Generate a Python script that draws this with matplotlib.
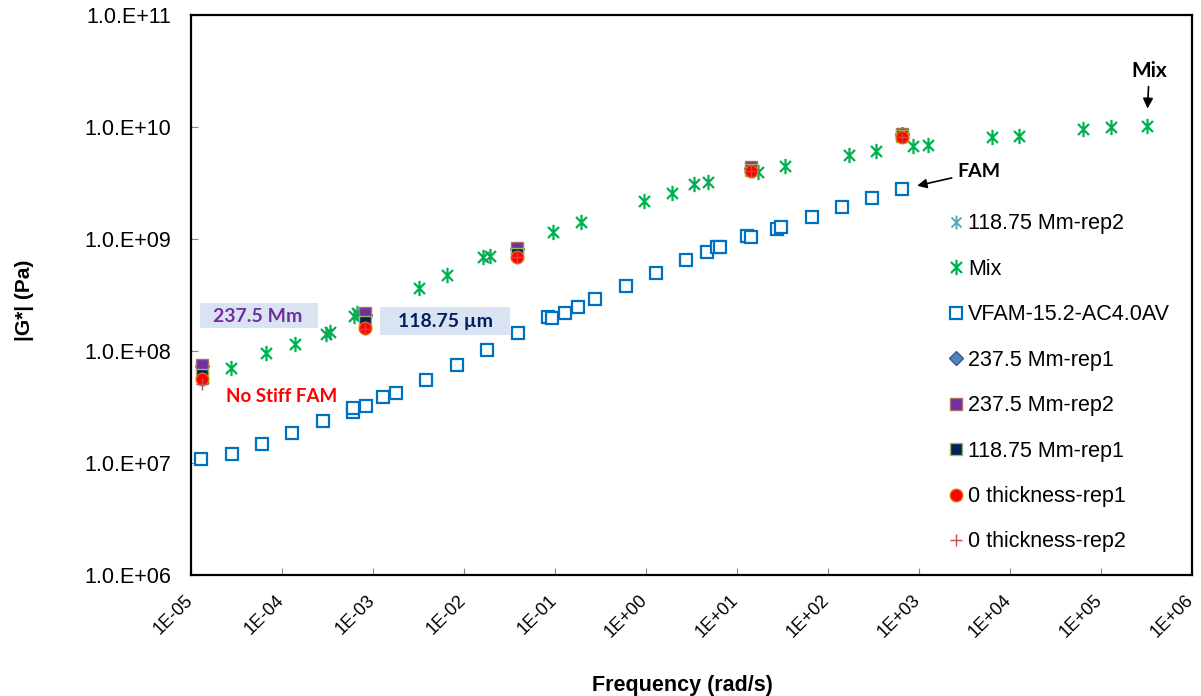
import numpy as np
import matplotlib.pyplot as plt
from matplotlib.path import Path
from matplotlib.patches import Rectangle
from matplotlib.transforms import ScaledTranslation
from matplotlib.ticker import FixedLocator, FuncFormatter

plt.rcParams['font.family'] = ['Liberation Sans', 'DejaVu Sans']

# VFAM-15.2-AC4.0AV (FAM)
fam_freq = [1.29e-5, 2.82e-5, 6.03e-5, 1.29e-4, 2.82e-4, 6.03e-4, 6.03e-4, 8.38e-4,
            1.29e-3, 1.79e-3, 3.82e-3, 8.38e-3, 1.79e-2, 3.92e-2, 8.38e-2, 9.27e-2,
            0.129, 0.179, 0.275, 0.603, 1.29, 2.75, 4.68, 6.03, 6.50, 12.9, 14.3,
            27.5, 30.5, 66.7, 143, 305, 650]
fam_g = [1.09e7, 1.20e7, 1.48e7, 1.85e7, 2.37e7, 2.85e7, 3.10e7, 3.23e7,
         3.88e7, 4.22e7, 5.51e7, 7.50e7, 1.02e8, 1.45e8, 2.01e8, 1.97e8,
         2.18e8, 2.47e8, 2.91e8, 3.80e8, 4.97e8, 6.49e8, 7.65e8, 8.48e8, 8.48e8,
         1.06e9, 1.04e9, 1.23e9, 1.28e9, 1.57e9, 1.93e9, 2.32e9, 2.79e9]

# Mix
mix_freq = [1.35e-5, 2.75e-5, 6.67e-5, 1.39e-4, 3.05e-4, 3.37e-4, 6.18e-4, 6.67e-4,
            3.20e-3, 6.50e-3, 1.62e-2, 1.93e-2, 9.51e-2, 0.193, 0.951, 1.93, 3.37,
            4.80, 17.0, 33.7, 170, 337, 858, 1256, 6.34e3, 1.26e4, 6.34e4, 1.29e5,
            3.20e5]
mix_g = [5.74e7, 7.05e7, 9.59e7, 1.15e8, 1.42e8, 1.48e8, 2.05e8, 2.18e8,
         3.65e8, 4.77e8, 6.91e8, 7.05e8, 1.15e9, 1.42e9, 2.18e9, 2.58e9, 3.10e9,
         3.23e9, 3.96e9, 4.48e9, 5.62e9, 6.10e9, 6.76e9, 6.90e9, 8.14e9, 8.32e9,
         9.60e9, 1.00e10, 1.02e10]

# stiff FAM layers, measured at five frequencies
stiff_freq = [1.32e-5, 8.17e-4, 3.82e-2, 14.3, 650]
g_11875_rep2 = [6.0e7, 1.80e8, 7.30e8, 4.10e9, 8.30e9]
g_2375_rep1 = [7.3e7, 2.10e8, 8.20e8, 4.30e9, 8.60e9]
g_2375_rep2 = [7.50e7, 2.18e8, 8.39e8, 4.39e9, 8.66e9]
g_11875_rep1 = [6.11e7, 1.82e8, 7.35e8, 4.13e9, 8.31e9]
g_0_rep1 = [5.62e7, 1.60e8, 6.84e8, 4.05e9, 8.14e9]
g_0_rep2 = [5.07e7, 1.58e8, 6.90e8, 4.05e9, 8.14e9]

xticks = [10.0**k for k in range(-5, 7)]
xlabels = ['1E-05', '1E-04', '1E-03', '1E-02', '1E-01', '1E+00',
           '1E+01', '1E+02', '1E+03', '1E+04', '1E+05', '1E+06']
yticks = [10.0**k for k in range(6, 12)]

star = Path([(0, -1), (0, 1), (-0.72, -0.72), (0.72, 0.72), (-0.72, 0.72), (0.72, -0.72)],
            [Path.MOVETO, Path.LINETO] * 3)

fig = plt.figure(figsize=(12.01, 6.96), dpi=100)
ax = fig.add_axes([191 / 1201, 1 - 575 / 696, 1001 / 1201, 560 / 696])

ax.plot(stiff_freq, g_11875_rep2, ls='none', marker=star, ms=10, mew=1.4,
        mfc='none', mec='#4BACC6', label='118.75 Mm-rep2')
ax.plot(mix_freq, mix_g, ls='none', marker=star, ms=11, mew=1.6,
        mfc='none', mec='#00B050', label='Mix')
ax.plot(fam_freq, fam_g, ls='none', marker='s', ms=9, mew=1.6,
        mfc='white', mec='#0070C0', label='VFAM-15.2-AC4.0AV')
ax.plot(stiff_freq, g_2375_rep1, ls='none', marker='D', ms=7,
        mfc='#4F81BD', mec='#385D8A', label='237.5 Mm-rep1')
ax.plot(stiff_freq, g_2375_rep2, ls='none', marker='s', ms=9, mew=1,
        mfc='#7030A0', mec='#B07060', label='237.5 Mm-rep2')
ax.plot(stiff_freq, g_11875_rep1, ls='none', marker='s', ms=9, mew=1,
        mfc='#002060', mec='#9BBB59', label='118.75 Mm-rep1')
ax.plot(stiff_freq, g_0_rep1, ls='none', marker='o', ms=9, mew=1,
        mfc='#FF0000', mec='#E46C0A', label='0 thickness-rep1')
ax.plot(stiff_freq, g_0_rep2, ls='none', marker='+', ms=9, mew=1,
        color='#C0504D', label='0 thickness-rep2')

ax.set_xscale('log')
ax.set_yscale('log')
ax.set_xlim(1e-5, 1e6)
ax.set_ylim(1e6, 1e11)
ax.xaxis.set_major_locator(FixedLocator(xticks))
ax.set_xticklabels(xlabels, rotation=45, ha='right', va='top')
ax.yaxis.set_major_locator(FixedLocator(yticks))
ax.yaxis.set_major_formatter(FuncFormatter(lambda v, p: '1.0.E+%02d' % round(np.log10(v))))
ax.minorticks_off()
ax.tick_params(axis='both', direction='in', length=5, color='#888888')
ax.tick_params(axis='x', pad=12, labelsize=13)
ax.tick_params(axis='y', pad=14, labelsize=15.5)
shift = ScaledTranslation(0.05, 0, fig.dpi_scale_trans)
for lab in ax.get_xticklabels():
    lab.set_transform(lab.get_transform() + shift)
for s in ax.spines.values():
    s.set_linewidth(1.6)

ax.set_xlabel('Frequency (rad/s)', fontsize=15.5, fontweight='bold')
ax.set_ylabel('|G*| (Pa)', fontsize=15, fontweight='bold')
ax.xaxis.set_label_coords(0.4905, -0.1786)
ax.yaxis.set_label_coords(-0.157, 0.491)

ax.legend(loc='upper left', bbox_to_anchor=(0.749, 0.661), frameon=False, fontsize=15.5,
          handlelength=0.6, handletextpad=0.26, labelspacing=1.135, numpoints=1,
          borderaxespad=0)

# annotations
ax.annotate('Mix', xy=(10**5.51, 10**10.14), xytext=(10**5.53, 10**10.5),
            ha='center', va='center', fontsize=15, fontweight='bold',
            family=['Lato', 'DejaVu Sans'],
            arrowprops=dict(arrowstyle='-|>', color='black', lw=1.2))
ax.annotate('FAM', xy=(10**2.95, 10**9.47), xytext=(10**3.42, 10**9.6),
            ha='left', va='center', fontsize=14, fontweight='bold',
            family=['Lato', 'DejaVu Sans'],
            arrowprops=dict(arrowstyle='-|>', color='black', lw=1.2))

for x0, y0, w, h in [(200, 303, 118, 25), (380, 307, 130, 28)]:
    fig.add_artist(Rectangle((x0 / 1201, 1 - (y0 + h) / 696), w / 1201, h / 696,
                             transform=fig.transFigure, fc='#DAE3F1', ec='none', zorder=3))
fig.text(258 / 1201, 1 - 316 / 696, '237.5 Mm', color='#7030A0', fontsize=14,
         fontweight='bold', ha='center', va='center', family=['Lato', 'DejaVu Sans'],
         zorder=4)
fig.text(445 / 1201, 1 - 321 / 696, '118.75 \u00b5m', color='#002060', fontsize=14,
         fontweight='bold', ha='center', va='center', family=['Lato', 'DejaVu Sans'],
         zorder=4)
fig.text(282 / 1201, 1 - 397 / 696, 'No Stiff FAM', color='#FF0000', fontsize=13.5,
         fontweight='bold', ha='center', va='center', family=['Lato', 'DejaVu Sans'])

fig.savefig('out.png', dpi=100)
